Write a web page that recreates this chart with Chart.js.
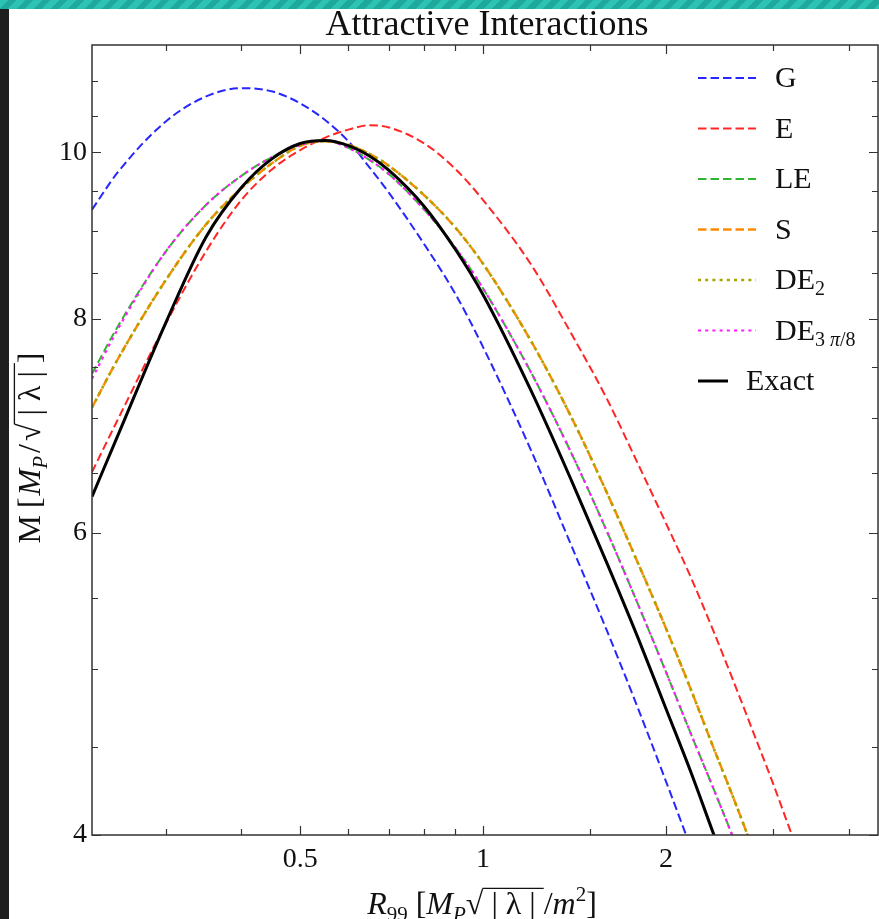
<!DOCTYPE html>
<html>
<head>
<meta charset="utf-8">
<title>Attractive Interactions</title>
<script src="https://cdn.jsdelivr.net/npm/chart.js@4.4.1/dist/chart.umd.min.js"></script>
<style>
  html, body { margin: 0; padding: 0; background: #fff; overflow: hidden; }
  #plot { position: absolute; left: 0; top: 0; }
  .edge-left { position: absolute; left: 0; top: 0; width: 9px; height: 919px; background: #1f1f1f; }
  .edge-top {
    position: absolute; left: 0; top: 0; width: 879px; height: 9px;
    background: repeating-linear-gradient(135deg, #2cc3b5 0 6px, #1fa99c 6px 12px);
  }
</style>
</head>
<body>
<canvas id="plot" width="879" height="919"></canvas>
<div class="edge-left"></div>
<div class="edge-top"></div>
<script>
  // R99 values shared by every curve
  const xs = [0.227, 0.25, 0.3, 0.35, 0.4, 0.45, 0.5, 0.55, 0.6, 0.65, 0.7, 0.8, 0.9,
              1.0, 1.2, 1.4, 1.6, 1.8, 2.0, 2.2, 2.4, 2.6, 2.8, 3.0, 3.2, 3.5];

  // M values (curves stop once they leave the frame)
  const gVals = [9.26, 9.73, 10.42, 10.78, 10.90, 10.85, 10.68, 10.44, 10.15, 9.80, 9.47, 8.84, 8.27,
                 7.70, 6.70, 5.89, 5.26, 4.74, 4.30, 3.93];
  const eVals = [6.51, 6.98, 7.94, 8.76, 9.38, 9.78, 10.03, 10.20, 10.31, 10.37, 10.34, 10.12, 9.78,
                 9.38, 8.60, 7.83, 7.18, 6.58, 6.08, 5.65, 5.25, 4.89, 4.57, 4.29, 4.03, 3.70];
  const leVals = [7.43, 7.91, 8.75, 9.32, 9.69, 9.94, 10.10, 10.16, 10.06, 9.90, 9.71, 9.26, 8.80,
                  8.33, 7.44, 6.67, 6.01, 5.45, 4.98, 4.58, 4.25, 3.96, 3.70];
  const sVals = [7.10, 7.57, 8.42, 9.08, 9.53, 9.86, 10.09, 10.15, 10.10, 9.98, 9.82, 9.44, 9.04,
                 8.61, 7.76, 7.00, 6.33, 5.76, 5.28, 4.86, 4.49, 4.18, 3.90, 3.65];
  const de2Vals = [7.10, 7.57, 8.42, 9.08, 9.53, 9.86, 10.09, 10.15, 10.10, 9.98, 9.82, 9.44, 9.04,
                   8.61, 7.76, 7.00, 6.33, 5.76, 5.28, 4.86, 4.49, 4.18, 3.90, 3.65];
  const de3Vals = [7.38, 7.88, 8.75, 9.32, 9.69, 9.94, 10.10, 10.16, 10.06, 9.90, 9.71, 9.26, 8.80,
                   8.33, 7.44, 6.67, 6.01, 5.45, 4.98, 4.58, 4.25, 3.96, 3.70];
  const exactVals = [6.30, 6.83, 7.95, 8.93, 9.54, 9.92, 10.12, 10.16, 10.09, 9.95, 9.76, 9.30, 8.78,
                     8.26, 7.26, 6.43, 5.76, 5.21, 4.74, 4.35, 4.00, 3.71];

  const xTicks = [0.3, 0.4, 0.5, 0.6, 0.7, 0.8, 0.9, 1, 1.5, 2, 3, 4];
  const xLabels = [0.5, 1, 2];
  const yTicks = [4, 4.5, 5, 5.5, 6, 6.5, 7, 7.5, 8, 8.5, 9, 9.5, 10, 10.5, 11];
  const yLabels = [4, 6, 8, 10];

  const FONT = '"Liberation Serif", "Times New Roman", serif';
  const DASH = [8.5, 4];
  const DOT = [3, 4.2];

  // legend label pieces: t = text, s = size, i = italic, dy = shift, gap = blank width
  const series = [
    { vals: gVals, color: "#2626ff", dash: DASH, width: 2, label: [{ t: "G" }] },
    { vals: eVals, color: "#ff2626", dash: DASH, width: 2, label: [{ t: "E" }] },
    { vals: leVals, color: "#30b530", dash: DASH, width: 2, label: [{ t: "LE" }] },
    { vals: sVals, color: "#ff8a00", dash: DASH, width: 2.4, label: [{ t: "S" }] },
    { vals: de2Vals, color: "#a9a400", dash: DOT, width: 2.6,
      label: [{ t: "DE" }, { t: "2", s: 20, dy: 6 }] },
    { vals: de3Vals, color: "#ff1aff", dash: DOT, width: 2.2,
      label: [{ t: "DE" }, { t: "3 ", s: 20, dy: 6 }, { t: "\u03c0", s: 20, dy: 6, i: true }, { t: "/8", s: 20, dy: 6 }] },
    { vals: exactVals, color: "#000000", dash: [], width: 3, label: [{ t: "Exact" }], short: true },
  ];

  const xTitle = [
    { t: "R", i: true }, { t: "99", s: 21, dy: 7 }, { t: " [" }, { t: "M", i: true },
    { t: "P", i: true, s: 21, dy: 7 }, { t: "\u221a" }, { t: " | \u03bb | ", over: true },
    { t: "/" }, { t: "m", i: true }, { t: "2", s: 21, dy: -13 }, { t: "]" },
  ];
  const yTitle = [
    { t: "M" }, { gap: 7 }, { t: "[" }, { gap: 2 }, { t: "M", i: true }, { t: "P", i: true, s: 21, dy: 7 },
    { gap: 3 }, { t: "/" }, { gap: 3 }, { t: "\u221a" }, { t: " | \u03bb | ", over: true }, { t: "]" },
  ];

  function drawRich(ctx, parts, x, y, base, align) {
    const fontOf = (p) => `${p.i ? "italic " : ""}${p.s || base}px ${FONT}`;
    let total = 0;
    parts.forEach((p) => {
      ctx.font = fontOf(p);
      p.w = p.gap != null ? p.gap : ctx.measureText(p.t).width;
      total += p.w;
    });
    let cx = align === "center" ? x - total / 2 : x;
    ctx.textAlign = "left";
    ctx.textBaseline = "alphabetic";
    parts.forEach((p) => {
      if (p.t) {
        ctx.font = fontOf(p);
        ctx.fillText(p.t, cx, y + (p.dy || 0));
      }
      if (p.over) {
        ctx.beginPath();
        ctx.lineWidth = 1.3;
        ctx.moveTo(cx - 1, y - base * 0.8);
        ctx.lineTo(cx + p.w, y - base * 0.8);
        ctx.stroke();
      }
      cx += p.w;
    });
  }

  const framePlugin = {
    id: "frame",
    beforeDraw(chart) {
      const ctx = chart.ctx;
      ctx.save();
      ctx.fillStyle = "#ffffff";
      ctx.fillRect(0, 0, chart.width, chart.height);
      ctx.restore();
    },
    afterDraw(chart) {
      const { ctx, chartArea: a } = chart;
      const x = chart.scales.x;
      const y = chart.scales.y;
      ctx.save();

      // frame and inward ticks on all four sides
      ctx.strokeStyle = "#333";
      ctx.lineWidth = 1.5;
      ctx.strokeRect(a.left, a.top, a.right - a.left, a.bottom - a.top);
      ctx.lineWidth = 1.2;
      ctx.beginPath();
      xTicks.forEach((v) => {
        const p = Math.round(x.getPixelForValue(v)) + 0.5;
        const len = xLabels.includes(v) ? 9 : 6;
        ctx.moveTo(p, a.bottom); ctx.lineTo(p, a.bottom - len);
        ctx.moveTo(p, a.top); ctx.lineTo(p, a.top + len);
      });
      yTicks.forEach((v) => {
        const p = Math.round(y.getPixelForValue(v)) + 0.5;
        const len = yLabels.includes(v) ? 9 : 6;
        ctx.moveTo(a.left, p); ctx.lineTo(a.left + len, p);
        ctx.moveTo(a.right, p); ctx.lineTo(a.right - len, p);
      });
      ctx.stroke();

      ctx.fillStyle = "#111";
      ctx.strokeStyle = "#111";

      // title
      ctx.font = `36px ${FONT}`;
      ctx.textAlign = "center";
      ctx.textBaseline = "alphabetic";
      ctx.fillText("Attractive Interactions", 487, 35);

      // axis titles
      drawRich(ctx, xTitle, 482, 914, 32, "center");
      ctx.save();
      ctx.translate(40, 448);
      ctx.rotate(-Math.PI / 2);
      drawRich(ctx, yTitle, 0, 0, 32, "center");
      ctx.restore();

      // legend
      series.forEach((s, i) => {
        const ry = 78 + i * 50.5;
        ctx.save();
        ctx.strokeStyle = s.color;
        ctx.lineWidth = s.width;
        ctx.setLineDash(s.dash);
        ctx.beginPath();
        ctx.moveTo(698, ry);
        ctx.lineTo(s.short ? 728 : 756, ry);
        ctx.stroke();
        ctx.restore();
        drawRich(ctx, s.label, s.short ? 746 : 775, ry + 9, 30, "left");
      });

      ctx.restore();
    },
  };

  const datasets = series.map((s, i) => ({
    label: s.label.map((p) => p.t || "").join(""),
    data: s.vals.map((v, j) => ({ x: xs[j], y: v })),
    borderColor: s.color,
    borderWidth: s.width,
    borderDash: s.dash,
    pointRadius: 0,
    fill: false,
    cubicInterpolationMode: "monotone",
    order: series.length - i,
  }));

  const tickFont = { family: FONT, size: 28 };

  new Chart(document.getElementById("plot"), {
    type: "line",
    data: { datasets },
    options: {
      responsive: false,
      animation: false,
      devicePixelRatio: 1,
      layout: { padding: { top: 45, right: 1, left: 0, bottom: 0 } },
      plugins: {
        legend: { display: false },
        title: { display: false },
        tooltip: { enabled: false },
      },
      scales: {
        x: {
          type: "logarithmic",
          min: 0.227,
          max: 4.47,
          grid: { display: false, drawTicks: false },
          border: { display: false },
          afterBuildTicks: (s) => { s.ticks = xTicks.map((v) => ({ value: v })); },
          afterFit: (s) => { s.height = 84; },
          ticks: {
            autoSkip: false,
            maxRotation: 0,
            padding: 8,
            color: "#111",
            font: tickFont,
            callback: (v) => (xLabels.includes(v) ? String(v) : ""),
          },
        },
        y: {
          type: "logarithmic",
          min: 4,
          max: 11.55,
          grid: { display: false, drawTicks: false },
          border: { display: false },
          afterBuildTicks: (s) => { s.ticks = yTicks.map((v) => ({ value: v })); },
          afterFit: (s) => { s.width = 92; },
          ticks: {
            autoSkip: false,
            padding: 5,
            color: "#111",
            font: tickFont,
            callback: (v) => (yLabels.includes(v) ? String(v) : ""),
          },
        },
      },
    },
    plugins: [framePlugin],
  });
</script>
</body>
</html>
